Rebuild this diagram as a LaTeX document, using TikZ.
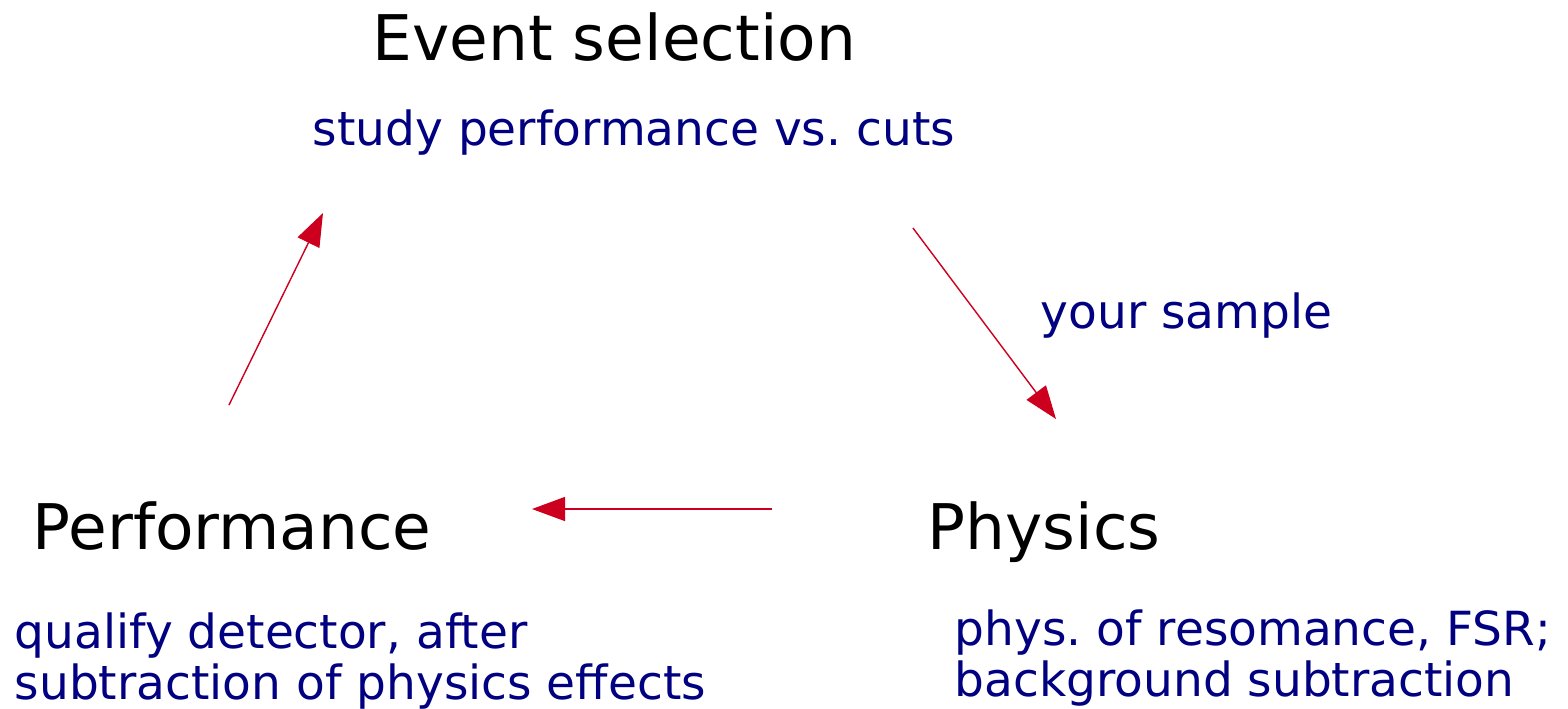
\documentclass[tikz,border=0pt]{standalone}
\usepackage{fontspec}
\setmainfont{DejaVu Sans}
\usetikzlibrary{arrows.meta}
\frenchspacing

\definecolor{notenavy}{RGB}{0,0,128}
\definecolor{flowred}{RGB}{204,0,30}

\begin{document}
\begin{tikzpicture}[
        x=0.01cm, y=-0.01cm,
        title/.style={anchor=base west, inner sep=0, font=\fontsize{17.9}{21}\selectfont},
        note/.style={anchor=base west, inner sep=0, align=left, text=notenavy,
            font=\fontsize{13.37}{14.5}\selectfont},
        flow/.style={draw=flowred, line width=0.4pt,
            -{Triangle[length=0.33cm, width=0.24cm, fill=flowred]}}
    ]
                \useasboundingbox (0,0) rectangle (1568,708);

                % Titles
                \node[title] (evsel) at (372,60) {Event selection};
                \node[title] (perf) at (32,549) {Performance};
                \node[title] (phys) at (927,549) {Physics};

                % Notes (base = last line)
                \node[note] (cuts) at (312,145) {study performance vs. cuts};
                \node[note] (sample) at (1040,328) {your sample};
                \node[note] (qualify) at (14,699) {qualify detector, after\\subtraction of physics effects};
                \node[note] (reso) at (954,696) {phys. of resomance, FSR;\\background subtraction};

                % Arrow ends
                \coordinate (perf-out) at (229,405);
                \coordinate (evsel-in) at (323,213);
                \coordinate (evsel-out) at (913,228);
                \coordinate (phys-in) at (1056,419);
                \coordinate (phys-out) at (772,509);
                \coordinate (perf-in) at (532,509);

                % Cycle
                \draw[flow] (perf-out) -- (evsel-in);
                \draw[flow] (evsel-out) -- (phys-in);
                \draw[flow] (phys-out) -- (perf-in);
            \end{tikzpicture}
\end{document}
